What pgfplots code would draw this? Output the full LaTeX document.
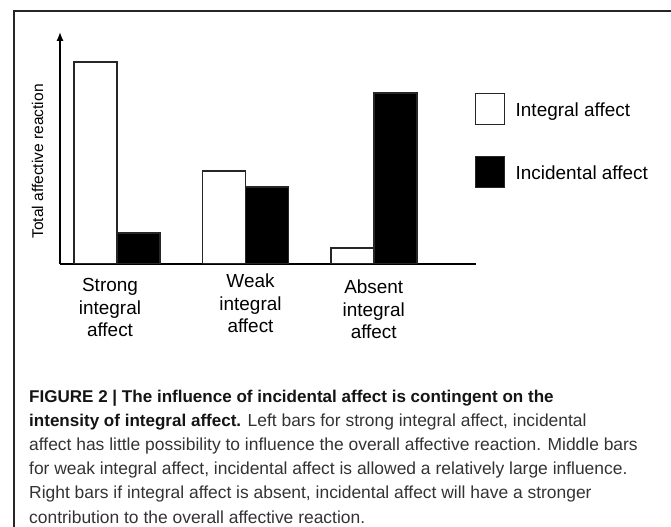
\documentclass[border=0pt]{standalone}
\usepackage{pgfplots}
\pgfplotsset{compat=1.18}
\usetikzlibrary{arrows.meta}
\usepackage{fontspec}
\setmainfont{Liberation Sans}
\newcommand\tl[2]{\raisebox{#1}{\begin{tabular}[t]{@{}c@{}}#2\end{tabular}}}
\begin{document}
\begin{tikzpicture}[x=1bp,y=1bp]
\useasboundingbox (0,0) rectangle (671,527);
\draw[line width=1.4bp, black!85] (14,0) -- (14,516) -- (671,516);
\begin{axis}[
  at={(60bp,263bp)}, anchor=south west,
  scale only axis, width=415.5bp, height=232bp,
  xmin=-0.4436, xmax=2.790, ymin=0, ymax=232,
  axis x line*=bottom, axis y line*=left,
  x axis line style={line width=1.3bp,-},
  y axis line style={line width=1.3bp,-{Latex[length=9bp,width=7bp]}},
  ytick=\empty,
  xtick={-0.0545,1.039,1.998},
  xticklabels={\tl{0bp}{Strong\\integral\\affect},\tl{4bp}{Weak\\integral\\affect},\tl{-2bp}{Absent\\integral\\affect}},
  xtick style={draw=none}, major tick length=0pt,
  xticklabel style={font=\fontsize{19}{22.5}\selectfont, anchor=base, inner sep=0pt, yshift=-27.8bp},
  ylabel={Total affective reaction},
  ylabel style={at={(axis description cs:-0.0542,0.4418)}, anchor=center, font=\fontsize{15.6}{18}\selectfont, inner sep=0pt},
  ybar, bar width=0.3346,
  legend image code/.code={\draw[#1,line width=1.2bp] (0bp,-8.7bp) rectangle (29bp,22.3bp);},
  legend style={at={(0.9988,0.7358)}, anchor=north west, draw=none, fill=none,
    inner sep=0pt, outer sep=0pt, row sep=30.7bp, column sep=10.5bp,
    font=\fontsize{19}{22}\selectfont, nodes={inner sep=0pt, outer sep=0pt, anchor=base west}},
]
\addplot[fill=white, draw=black!85, line width=1.2bp, bar shift=-0.1673] coordinates {(0,202) (1,93) (2,16)};
\addplot[fill=black, draw=black!85, line width=1.2bp, bar shift=0.1673] coordinates {(0,31) (1,77) (2,171)};
\legend{Integral affect, Incidental affect}
\end{axis}
\node[anchor=north west, inner sep=0pt, align=left, text=black!80,
  font=\fontsize{17.5}{24.2}\selectfont] at (29,137)
{\textcolor{black!92}{\fontsize{17.1}{24.2}\selectfont\textbf{FIGURE 2 | The influence of incidental affect is contingent on the}}\\
\textcolor{black!92}{\fontsize{17.1}{24.2}\selectfont\textbf{intensity of integral affect.}} Left bars for strong integral affect, incidental\\
affect has little possibility to influence the overall affective reaction. Middle bars\\
for weak integral affect, incidental affect is allowed a relatively large influence.\\
Right bars if integral affect is absent, incidental affect will have a stronger\\
contribution to the overall affective reaction.};
\end{tikzpicture}
\end{document}
